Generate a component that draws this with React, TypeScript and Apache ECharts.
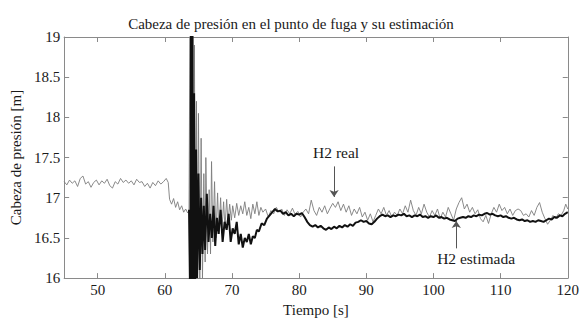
import React, { useEffect, useRef } from "react";
import * as echarts from "echarts";

const titleText = "Cabeza de presión en el punto de fuga y su estimación";
const xName = "Tiempo [s]";
const yName = "Cabeza de presión [m]";

const realT = [
  45.0, 45.4, 45.8, 46.2, 46.6, 47.0, 47.4, 47.8, 48.2, 48.6, 49.0, 49.4, 49.8, 50.2, 50.6, 51.0, 51.4, 51.8, 52.2, 52.6,
  53.0, 53.4, 53.8, 54.2, 54.6, 55.0, 55.4, 55.8, 56.2, 56.6, 57.0, 57.4, 57.8, 58.2, 58.6, 59.0, 59.4, 59.8, 60.2, 60.5,
  60.7, 61.0, 61.3, 61.6, 61.9, 62.2, 62.5, 62.8, 63.1, 63.4, 63.6,
  63.75, 63.85, 63.95, 64.05, 64.15, 64.25, 64.4, 64.55, 64.7, 64.85, 65.0, 65.2, 65.4, 65.6, 65.8, 66.0, 66.1, 66.35,
  66.6, 66.8, 66.95, 67.15, 67.4, 67.6, 67.85, 68.05, 68.3, 68.5, 68.75, 68.95, 69.2, 69.4, 69.65, 69.9, 70.1, 70.4,
  70.7, 71.0, 71.3, 71.6, 71.9, 72.2, 72.5, 72.8, 73.1, 73.4, 73.7, 74.0, 74.3, 74.6,
  75.0, 75.4, 75.8, 76.2, 76.6, 77.0, 77.4, 77.8, 78.2, 78.6, 79.0, 79.4, 79.8, 80.2, 80.6, 81.0, 81.4, 81.8, 82.2, 82.6,
  83.0, 83.4, 83.8, 84.2, 84.6, 85.0, 85.4, 85.8, 86.2, 86.6, 87.0, 87.4, 87.8, 88.2, 88.6, 89.0, 89.4, 89.8, 90.2, 90.6,
  91.0, 91.4, 91.8, 92.2, 92.6, 93.0, 93.4, 93.8, 94.2, 94.6, 95.0, 95.4, 95.8, 96.2, 96.6, 97.0, 97.4, 97.8, 98.2, 98.6,
  99.0, 99.4, 99.8, 100.2, 100.6, 101.0, 101.4, 101.8, 102.2, 102.6, 103.0, 103.4, 103.8, 104.2, 104.6, 105.0, 105.4, 105.8, 106.2, 106.6,
  107.0, 107.4, 107.8, 108.2, 108.6, 109.0, 109.4, 109.8, 110.2, 110.6, 111.0, 111.4, 111.8, 112.2, 112.6, 113.0, 113.4, 113.8, 114.2, 114.6,
  115.0, 115.4, 115.8, 116.2, 116.6, 117.0, 117.4, 117.8, 118.2, 118.6, 119.0, 119.4, 119.7, 120.0,
];
const realH = [
  17.20, 17.16, 17.22, 17.18, 17.21, 17.14, 17.24, 17.27, 17.17, 17.20, 17.13, 17.19, 17.22, 17.16, 17.21, 17.18, 17.23, 17.15, 17.12, 17.20,
  17.17, 17.24, 17.19, 17.22, 17.18, 17.21, 17.16, 17.23, 17.19, 17.20, 17.14, 17.18, 17.12, 17.19, 17.15, 17.21, 17.17, 17.20, 17.24, 17.19,
  16.98, 16.92, 16.99, 16.88, 16.95, 16.85, 16.90, 16.82, 16.86, 16.81, 16.84,
  19.5, 15.5, 19.5, 15.5, 19.5, 15.6, 18.9, 15.8, 18.2, 15.9, 18.05, 15.9, 17.74, 16.0, 17.3, 16.2, 17.5, 16.3,
  17.1, 16.3, 17.45, 16.45, 17.2, 16.5, 17.06, 16.55, 17.0, 16.6, 16.95, 16.62, 16.98, 16.7, 16.92, 16.72, 16.9, 16.75,
  16.93, 16.78, 16.9, 16.8, 16.95, 16.78, 16.88, 16.74, 16.92, 16.8, 16.95, 16.78, 16.88, 16.82,
  16.86, 16.76, 16.84, 16.80, 16.88, 16.82, 16.86, 16.78, 16.85, 16.80, 16.87, 16.79, 16.83, 16.76, 16.82, 16.86, 16.80, 16.97, 16.84, 16.78,
  16.88, 16.82, 16.90, 16.80, 16.87, 16.93, 16.88, 16.95, 16.84, 16.92, 16.82, 16.90, 16.78, 16.86, 16.80, 16.88, 16.76, 16.82, 16.72, 16.80,
  16.70, 16.78, 16.86, 16.80, 16.88, 16.78, 16.84, 16.76, 16.82, 16.78, 16.86, 16.80, 16.90, 16.82, 16.97, 16.84, 16.78, 16.88, 16.80, 16.92,
  16.82, 16.76, 16.84, 16.78, 16.86, 16.74, 16.82, 16.76, 16.88, 16.80, 16.72, 16.86, 16.94, 17.00, 16.86, 16.92, 16.82, 16.88, 16.80, 16.85,
  16.74, 16.70, 16.78, 16.68, 16.80, 16.88, 16.82, 16.92, 16.84, 16.88, 16.80, 16.86, 16.78, 16.84, 16.86, 16.84, 16.78, 16.80, 16.76, 16.84,
  16.78, 16.88, 16.94, 16.82, 16.74, 16.67, 16.72, 16.78, 16.74, 16.80, 16.78, 16.84, 16.92, 16.86,
];

const estT = [
  63.6, 63.8, 63.9, 64.0, 64.1, 64.2, 64.35, 64.5, 64.65, 64.8, 65.0, 65.2, 65.4, 65.6, 65.8, 66.0, 66.25, 66.5, 66.75, 67.0,
  67.25, 67.5, 67.75, 68.0, 68.3, 68.6, 68.9, 69.2, 69.5, 69.8, 70.1, 70.4, 70.7, 71.0, 71.3, 71.6, 71.9, 72.2, 72.5, 72.8,
  73.1, 73.4, 73.7, 74.0, 74.4, 74.8, 75.2, 75.6, 76.0, 76.4, 76.8, 77.2, 77.6, 78.0, 78.4, 78.8, 79.2, 79.6, 80.0, 80.4,
  80.8, 81.2, 81.6, 82.0, 82.4, 82.8, 83.2, 83.6, 84.0, 84.4, 84.8, 85.2, 85.6, 86.0, 86.4, 86.8, 87.2, 87.6, 88.0, 88.4,
  88.8, 89.2, 89.6, 90.0, 90.4, 90.8, 91.2, 91.6, 92.0, 92.4, 92.8, 93.2, 93.6, 94.0, 94.4, 94.8, 95.2, 95.6, 96.0, 96.4,
  96.8, 97.2, 97.6, 98.0, 98.4, 98.8, 99.2, 99.6, 100.0, 100.4, 100.8, 101.2, 101.6, 102.0, 102.4, 102.8, 103.2, 103.6, 104.0, 104.4,
  104.8, 105.2, 105.6, 106.0, 106.4, 106.8, 107.2, 107.6, 108.0, 108.4, 108.8, 109.2, 109.6, 110.0, 110.4, 110.8, 111.2, 111.6, 112.0, 112.4,
  112.8, 113.2, 113.6, 114.0, 114.4, 114.8, 115.2, 115.6, 116.0, 116.4, 116.8, 117.2, 117.6, 118.0, 118.4, 118.8, 119.2, 119.6, 120.0,
];
const estH = [
  16.85, 15.5, 19.5, 15.5, 19.5, 15.5, 18.3, 15.8, 17.6, 16.0, 17.3, 16.1, 17.0, 16.3, 16.9, 16.35, 17.05, 16.45, 16.8, 16.5,
  16.9, 16.4, 16.75, 16.55, 16.85, 16.45, 16.7, 16.6, 16.8, 16.45, 16.62, 16.55, 16.7, 16.42, 16.55, 16.38, 16.5, 16.45, 16.55, 16.42,
  16.52, 16.5, 16.6, 16.58, 16.68, 16.66, 16.74, 16.78, 16.82, 16.86, 16.83, 16.84, 16.80, 16.82, 16.78, 16.80, 16.77, 16.80, 16.79, 16.81,
  16.76, 16.70, 16.66, 16.64, 16.66, 16.63, 16.65, 16.62, 16.60, 16.63, 16.61, 16.64, 16.62, 16.65, 16.63, 16.66, 16.64, 16.67, 16.65, 16.69,
  16.70, 16.72, 16.70, 16.71, 16.68, 16.67, 16.70, 16.74, 16.77, 16.79, 16.77, 16.78, 16.76, 16.78, 16.77, 16.79, 16.78, 16.80, 16.77, 16.78,
  16.76, 16.78, 16.77, 16.79, 16.76, 16.77, 16.75, 16.77, 16.76, 16.78, 16.75, 16.76, 16.74, 16.75, 16.73, 16.72, 16.71, 16.74, 16.75, 16.76,
  16.75, 16.77, 16.76, 16.78, 16.77, 16.79, 16.78, 16.80, 16.81, 16.79, 16.80, 16.78, 16.77, 16.78, 16.76, 16.77, 16.75, 16.74, 16.75, 16.73,
  16.72, 16.73, 16.71, 16.72, 16.70, 16.71, 16.70, 16.72, 16.71, 16.70, 16.72, 16.74, 16.73, 16.76, 16.75, 16.78, 16.77, 16.80, 16.82,
];

const realLabel = "H2 real";
const estLabel = "H2 estimada";
const realArrow = [[85.2, 17.39], [85.2, 17.01]];
const estArrow = [[103.4, 16.37], [103.4, 16.71]];
const realLabelPos = [85.5, 17.56];
const estLabelPos = [106.35, 16.25];

const FONT = "Liberation Serif";
const AXIS_COLOR = "#8a8a8a";
const TEXT_COLOR = "#1a1a1a";

export default function App() {
  const ref = useRef<HTMLDivElement>(null);
  useEffect(() => {
    if (!ref.current) return;
    const chart = echarts.init(ref.current, null, { renderer: "svg" });
    const zip = (t: number[], h: number[]) => t.map((x, i) => [x, h[i]]);
    const baseX = {
      type: "value",
      min: 45,
      max: 120,
      splitNumber: 7,
      axisLine: { show: true, lineStyle: { color: AXIS_COLOR, width: 1 } },
      axisTick: { show: true, inside: true, length: 5, lineStyle: { color: AXIS_COLOR } },
      splitLine: { show: false },
    };
    const baseY = {
      type: "value",
      min: 16,
      max: 19,
      interval: 0.5,
      axisLine: { show: true, lineStyle: { color: AXIS_COLOR, width: 1 } },
      axisTick: { show: true, inside: true, length: 5, lineStyle: { color: AXIS_COLOR } },
      splitLine: { show: false },
    };
    chart.setOption({
      animation: false,
      backgroundColor: "#ffffff",
      title: {
        text: titleText,
        left: "center",
        top: 11,
        textStyle: { fontFamily: FONT, fontSize: 15, fontWeight: "normal", color: TEXT_COLOR },
      },
      grid: { left: 59, right: 12, top: 37, bottom: 33, containLabel: false },
      xAxis: [
        {
          ...baseX,
          position: "bottom",
          name: xName,
          nameLocation: "middle",
          nameGap: 17,
          nameTextStyle: { fontFamily: FONT, fontSize: 15, color: TEXT_COLOR },
          axisLabel: { show: true, showMinLabel: false, margin: 4, fontFamily: FONT, fontSize: 15, color: TEXT_COLOR },
        },
        { ...baseX, position: "top", axisLabel: { show: false } },
      ],
      yAxis: [
        {
          ...baseY,
          position: "left",
          name: yName,
          nameLocation: "middle",
          nameGap: 36,
          nameRotate: 90,
          nameTextStyle: { fontFamily: FONT, fontSize: 15, color: TEXT_COLOR },
          axisLabel: { show: true, margin: 4, fontFamily: FONT, fontSize: 15, color: TEXT_COLOR },
        },
        { ...baseY, position: "right", axisLabel: { show: false } },
      ],
      series: [
        {
          type: "line",
          name: realLabel,
          data: zip(realT, realH),
          showSymbol: false,
          clip: true,
          lineStyle: { color: "#7d7d7d", width: 0.9 },
          z: 2,
          markLine: {
            silent: true,
            symbol: ["none", "arrow"],
            symbolSize: 7,
            label: { show: false },
            lineStyle: { color: "#555555", width: 1, type: "solid" },
            data: [
              [{ coord: realArrow[0] }, { coord: realArrow[1] }],
              [{ coord: estArrow[0] }, { coord: estArrow[1] }],
            ],
          },
          markPoint: {
            silent: true,
            symbol: "circle",
            symbolSize: 1,
            itemStyle: { color: "rgba(0,0,0,0)" },
            label: { show: true, position: "inside", fontFamily: FONT, fontSize: 15.5, color: TEXT_COLOR },
            data: [
              { coord: realLabelPos, value: realLabel, label: { formatter: realLabel } },
              { coord: estLabelPos, value: estLabel, label: { formatter: estLabel } },
            ],
          },
        },
        {
          type: "line",
          name: estLabel,
          data: zip(estT, estH),
          showSymbol: false,
          clip: true,
          lineStyle: { color: "#111111", width: 2 },
          z: 3,
        },
      ],
    });
    return () => chart.dispose();
  }, []);
  return (
    <div
      ref={ref}
      style={{ position: "fixed", left: 0, top: 0, width: 582, height: 322, background: "#fff" }}
    />
  );
}
